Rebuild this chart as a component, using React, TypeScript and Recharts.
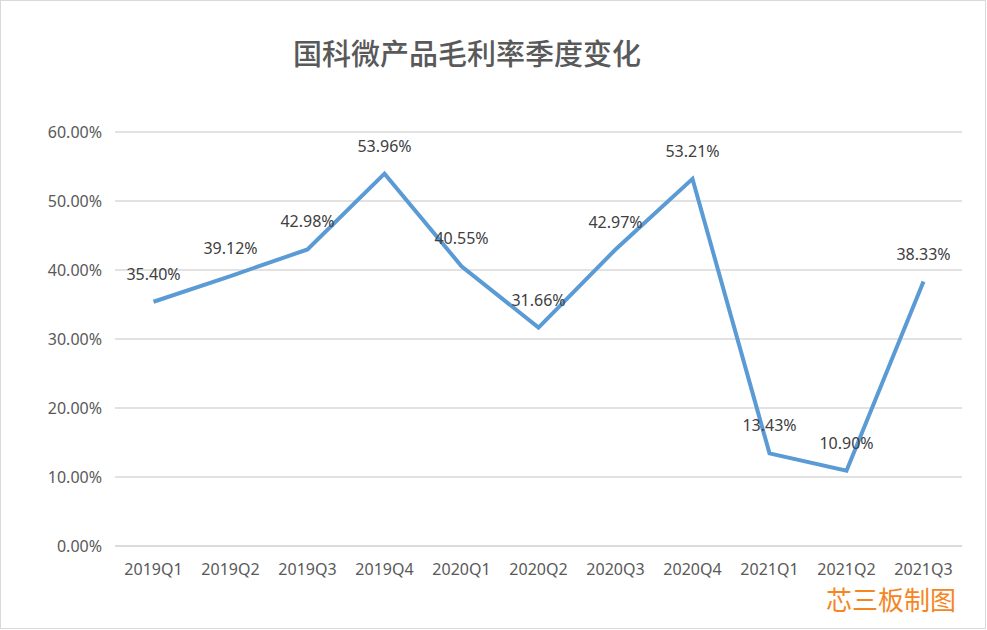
import React from 'react';
import { LineChart, Line, XAxis, YAxis, CartesianGrid, LabelList } from 'recharts';

const quarters = ['2019Q1', '2019Q2', '2019Q3', '2019Q4', '2020Q1', '2020Q2', '2020Q3', '2020Q4', '2021Q1', '2021Q2', '2021Q3'];
const grossMargin = [35.4, 39.12, 42.98, 53.96, 40.55, 31.66, 42.97, 53.21, 13.43, 10.9, 38.33];
const yTicks = [0, 10, 20, 30, 40, 50, 60];

const data = quarters.map((q, i) => ({ quarter: q, value: grossMargin[i] }));

const fontFamily = '"Noto Sans", "Noto Sans CJK SC", sans-serif';

export default function App() {
  return (
    <div
      style={{
        position: 'absolute',
        left: 0,
        top: 0,
        width: 986,
        height: 629,
        border: '1px solid #D9D9D9',
        boxSizing: 'border-box',
        background: '#fff',
        fontFamily,
      }}
    >
      <div
        style={{
          position: 'absolute',
          left: 0,
          width: 932,
          top: 31,
          textAlign: 'center',
          fontSize: 29,
          fontWeight: 500,
          color: '#595959',
          fontFamily: '"Noto Sans CJK SC", sans-serif',
          lineHeight: '40px',
        }}
      >
        国科微产品毛利率季度变化
      </div>
      <div style={{ position: 'absolute', left: -1, top: -1 }}>
        <LineChart width={987} height={630} data={data} margin={{ top: 132, right: 25, bottom: 54, left: 0 }}>
          <CartesianGrid vertical={false} stroke="#D9D9D9" strokeWidth={1.5} />
          <XAxis
            dataKey="quarter"
            height={30}
            padding={{ left: 38.5, right: 38.5 }}
            axisLine={{ stroke: '#D9D9D9', strokeWidth: 1.5 }}
            tickLine={false}
            tickSize={0}
            tickMargin={18}
            interval={0}
            tick={{ fill: '#595959', fontSize: 16, fontFamily }}
          />
          <YAxis
            width={115}
            domain={[0, 60]}
            ticks={yTicks}
            axisLine={false}
            tickLine={false}
            tickSize={0}
            tickMargin={13}
            tickFormatter={(v: number) => `${v.toFixed(2)}%`}
            tick={{ fill: '#595959', fontSize: 16, fontFamily }}
          />
          <Line
            type="linear"
            dataKey="value"
            stroke="#5B9BD5"
            strokeWidth={4}
            dot={false}
            isAnimationActive={false}
          >
            <LabelList
              dataKey="value"
              position="top"
              offset={22}
              formatter={(v: number) => `${v.toFixed(2)}%`}
              style={{ fill: '#404040', fontSize: 16, fontFamily }}
            />
          </Line>
        </LineChart>
      </div>
      <div
        style={{
          position: 'absolute',
          left: 825,
          top: 581,
          fontSize: 26,
          lineHeight: '34px',
          color: '#F5861F',
          fontFamily: '"Noto Sans CJK SC", sans-serif',
        }}
      >
        芯三板制图
      </div>
    </div>
  );
}
